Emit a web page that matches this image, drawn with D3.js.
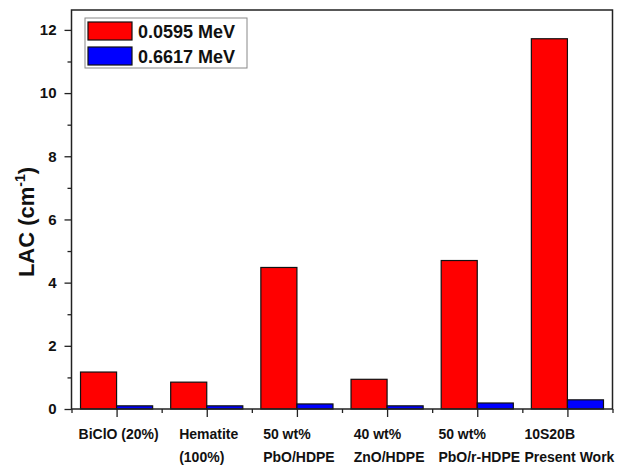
<!DOCTYPE html>
<html>
<head>
<meta charset="utf-8">
<script src="https://cdn.jsdelivr.net/npm/d3@7"></script>
<style>
  body { margin: 0; background: #fff; }
  svg text { font-family: "Liberation Sans", Arial, sans-serif; font-weight: bold; fill: #111; }
</style>
</head>
<body>
<svg id="chart" width="627" height="465"></svg>
<script>
// chart values
var categories = [
  ["BiClO (20%)"],
  ["Hematite", "(100%)"],
  ["50 wt%", "PbO/HDPE"],
  ["40 wt%", "ZnO/HDPE"],
  ["50 wt%", "PbO/r-HDPE"],
  ["10S20B", "Present Work"]
];
var seriesNames = ["0.0595 MeV", "0.6617 MeV"];
var lowEnergy  = [1.17, 0.85, 4.48, 0.94, 4.70, 11.72];
var highEnergy = [0.10, 0.10, 0.16, 0.10, 0.19, 0.29];
var yTicks = [0, 2, 4, 6, 8, 10, 12];
var yMinorTicks = [1, 3, 5, 7, 9, 11];

(function() {
  var svg = d3.select("#chart"),
    margin = { top: 10, right: 14.5, bottom: 56, left: 71.5 },
    width = 627,
    height = 465,
    colors = ["#ff0000", "#0000ff"],
    barWidth = 0.4,
    series = [lowEnergy, highEnergy];

  var x = d3.scaleLinear()
    .domain([0.5, categories.length + 0.5])
    .range([margin.left, width - margin.right]);

  var y = d3.scaleLinear()
    .domain([0, 12.63])
    .range([height - margin.bottom, margin.top]);

  var noDomain = function(g) { g.select(".domain").remove(); };

  // bars: red on the left of the tick, blue on the right
  series.forEach(function(vals, s) {
    svg.append("g").selectAll("rect")
      .data(vals)
      .enter().append("rect")
        .attr("x", function(d, i) { return x(i + 1 - barWidth + s * barWidth); })
        .attr("width", x(1 + barWidth) - x(1))
        .attr("y", function(d) { return y(d); })
        .attr("height", function(d) { return y(0) - y(d); })
        .attr("fill", colors[s])
        .attr("stroke", "#111")
        .attr("stroke-width", 1.2);
  });

  // y axis, major and minor
  svg.append("g")
    .attr("transform", "translate(" + margin.left + ",0)")
    .call(d3.axisLeft(y).tickValues(yTicks).tickSize(7).tickPadding(8))
    .call(noDomain)
    .call(function(g) {
      g.selectAll("text").attr("font-size", 15).attr("font-family", null);
      g.selectAll("line").attr("stroke", "#222").attr("stroke-width", 1.3);
    });

  svg.append("g")
    .attr("transform", "translate(" + margin.left + ",0)")
    .call(d3.axisLeft(y).tickValues(yMinorTicks).tickSize(4).tickFormat(""))
    .call(noDomain)
    .selectAll("line").attr("stroke", "#222").attr("stroke-width", 1.3);

  // x axis ticks
  svg.append("g")
    .attr("transform", "translate(0," + y(0) + ")")
    .call(d3.axisBottom(x).tickValues(d3.range(1, categories.length + 1)).tickSize(8).tickFormat(""))
    .call(noDomain)
    .selectAll("line").attr("stroke", "#222").attr("stroke-width", 1.3);

  svg.append("g")
    .attr("transform", "translate(0," + y(0) + ")")
    .call(d3.axisBottom(x).tickValues(d3.range(0.5, categories.length + 1, 1)).tickSize(4).tickFormat(""))
    .call(noDomain)
    .selectAll("line").attr("stroke", "#222").attr("stroke-width", 1.3);

  // frame
  svg.append("rect")
    .attr("x", margin.left)
    .attr("y", margin.top)
    .attr("width", width - margin.right - margin.left)
    .attr("height", y(0) - margin.top)
    .attr("fill", "none")
    .attr("stroke", "#222")
    .attr("stroke-width", 1.5);

  // category labels, two lines left aligned, block centred on the tick
  categories.forEach(function(lines, i) {
    var t = svg.append("text").attr("font-size", 14);
    lines.forEach(function(line, j) {
      t.append("tspan").attr("y", 439 + j * 23).text(line);
    });
    var maxw = 0;
    t.selectAll("tspan").each(function() {
      maxw = Math.max(maxw, this.getComputedTextLength());
    });
    t.selectAll("tspan").attr("x", x(i + 1) - maxw / 2 + 2);
  });

  // y title
  var title = svg.append("text")
    .attr("transform", "translate(34," + (margin.top + 212) + ") rotate(-90)")
    .attr("text-anchor", "middle")
    .attr("font-size", 22);
  title.append("tspan").text("LAC (cm");
  title.append("tspan").attr("font-size", 14).attr("dy", -9).text("-1");
  title.append("tspan").attr("dy", 9).text(")");

  // legend
  var legend = svg.append("g");
  legend.append("rect")
    .attr("x", 85).attr("y", 18)
    .attr("width", 162).attr("height", 50)
    .attr("fill", "#fff")
    .attr("stroke", "#888")
    .attr("stroke-width", 1);

  var items = legend.selectAll("g.item")
    .data(seriesNames)
    .enter().append("g")
      .attr("class", "item")
      .attr("transform", function(d, i) { return "translate(88," + (22 + i * 25) + ")"; });

  items.append("rect")
    .attr("width", 44).attr("height", 18)
    .attr("fill", function(d, i) { return colors[i]; })
    .attr("stroke", "#111")
    .attr("stroke-width", 1.2);

  items.append("text")
    .attr("x", 50)
    .attr("y", 15.5)
    .attr("font-size", 18)
    .text(function(d) { return d; });
})();
</script>
</body>
</html>
